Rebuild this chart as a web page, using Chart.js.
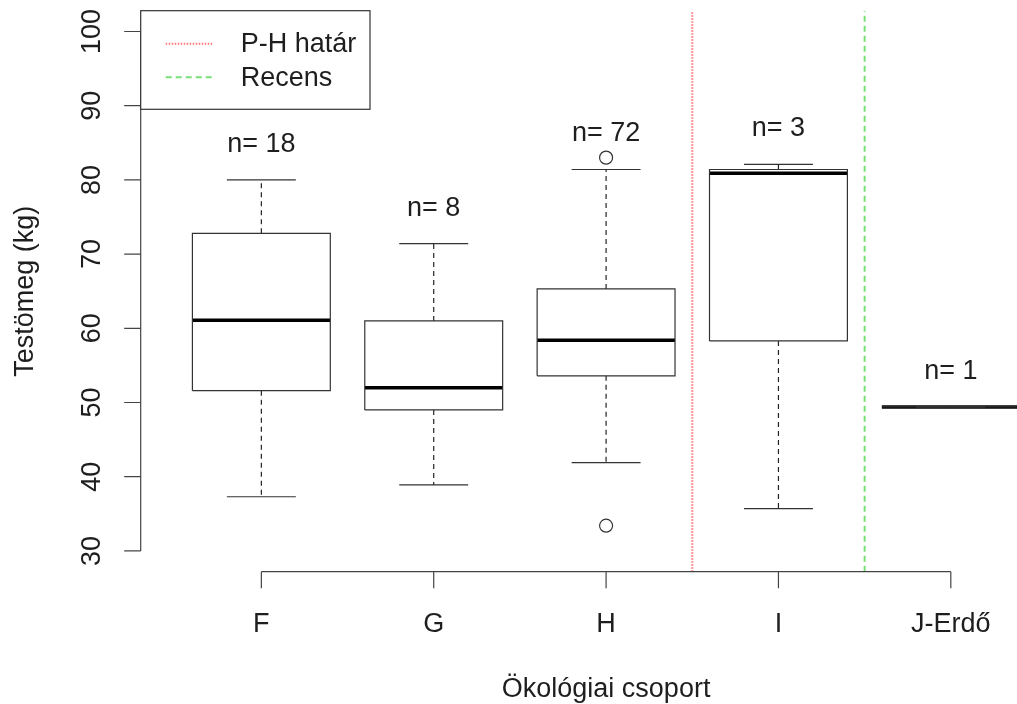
<!DOCTYPE html>
<html>
<head>
<meta charset="utf-8">
<script src="https://cdn.jsdelivr.net/npm/chart.js@4.4.1/dist/chart.umd.min.js"></script>
<style>
  html, body { margin: 0; padding: 0; background: #fff; overflow: hidden; }
  canvas { display: block; }
</style>
</head>
<body>
<canvas id="myChart" width="1017" height="704"></canvas>
<script>
// Adatok (leolvasva az ábráról)
const groups = ['F', 'G', 'H', 'I', 'J-Erdő'];
const counts = [18, 8, 72, 3, 1];
const whiskerLow = [37.3, 38.9, 41.9, 35.7, 49.4];
const quart1 = [51.6, 49.0, 53.6, 58.3, 49.4];
const medians = [61.1, 52.0, 58.4, 80.9, 49.4];
const quart3 = [72.8, 61.0, 65.3, 81.4, 49.4];
const whiskerHigh = [80.0, 71.4, 81.4, 82.1, 49.4];
const outlierGroup = [3, 3];
const outlierValues = [83.0, 33.4];
const yTicks = [30, 40, 50, 60, 70, 80, 90, 100];
const dividerPos = [3.5, 4.5];
const dividerLabels = ['P-H határ', 'Recens'];

const FONT = '27px "Liberation Sans", Arial, sans-serif';
const INK = '#1e1e1e';
const Y_MIN = 27.2, Y_MAX = 102.8;

const halfBox = 0.4, halfCap = 0.2;
const datasets = [];

// dobozok, whiskerek, mediánok
groups.forEach(function (g, i) {
    const x = i + 1;
    datasets.push({
        data: [
            {x: x - halfBox, y: quart1[i]}, {x: x + halfBox, y: quart1[i]},
            {x: x + halfBox, y: quart3[i]}, {x: x - halfBox, y: quart3[i]},
            {x: x - halfBox, y: quart1[i]}
        ],
        borderColor: '#333', borderWidth: 1.2
    });
    datasets.push({
        data: [{x: x, y: quart3[i]}, {x: x, y: whiskerHigh[i]}],
        borderColor: '#222', borderWidth: 1.2, borderDash: [5, 4]
    });
    datasets.push({
        data: [{x: x, y: quart1[i]}, {x: x, y: whiskerLow[i]}],
        borderColor: '#222', borderWidth: 1.2, borderDash: [5, 4]
    });
    datasets.push({
        data: [{x: x - halfCap, y: whiskerHigh[i]}, {x: x + halfCap, y: whiskerHigh[i]}],
        borderColor: '#333', borderWidth: 1.2
    });
    datasets.push({
        data: [{x: x - halfCap, y: whiskerLow[i]}, {x: x + halfCap, y: whiskerLow[i]}],
        borderColor: '#333', borderWidth: 1.2
    });
    datasets.push({
        data: [{x: x - halfBox, y: medians[i]}, {x: x + halfBox, y: medians[i]}],
        borderColor: '#000', borderWidth: 3.5
    });
});

datasets.forEach(function (d) {
    d.showLine = true;
    d.pointRadius = 0;
    d.fill = false;
    d.tension = 0;
});

// kiugró értékek
datasets.push({
    data: outlierValues.map(function (v, k) { return {x: outlierGroup[k], y: v}; }),
    showLine: false,
    pointStyle: 'circle',
    pointRadius: 6.5,
    pointBorderWidth: 1.2,
    pointBorderColor: '#333',
    pointBackgroundColor: 'rgba(0,0,0,0)'
});

// határvonalak
const dividerStyle = [
    {color: 'rgba(255,70,70,0.75)', dash: [1.5, 1.5]},
    {color: '#78e078', dash: [6, 4]}
];
dividerPos.forEach(function (p, k) {
    datasets.push({
        data: [{x: p, y: Y_MIN}, {x: p, y: Y_MAX}],
        showLine: true, pointRadius: 0, fill: false,
        borderColor: dividerStyle[k].color, borderWidth: 2,
        borderDash: dividerStyle[k].dash
    });
});

// tengelyek, feliratok, jelmagyarázat
const rPlot = {
    id: 'rPlot',
    afterDraw: function (chart) {
        const c = chart.ctx;
        const xs = chart.scales.x, ys = chart.scales.y;
        const area = chart.chartArea;
        c.save();
        c.strokeStyle = '#444';
        c.lineWidth = 1.2;
        c.fillStyle = INK;
        c.font = FONT;

        // y tengely
        const yTop = ys.getPixelForValue(yTicks[yTicks.length - 1]);
        const yBot = ys.getPixelForValue(yTicks[0]);
        c.beginPath();
        c.moveTo(area.left, yTop); c.lineTo(area.left, yBot);
        yTicks.forEach(function (t) {
            const py = ys.getPixelForValue(t);
            c.moveTo(area.left, py); c.lineTo(area.left - 16.5, py);
        });
        c.stroke();
        c.textAlign = 'center';
        c.textBaseline = 'alphabetic';
        yTicks.forEach(function (t) {
            c.save();
            c.translate(100, ys.getPixelForValue(t));
            c.rotate(-Math.PI / 2);
            c.fillText(String(t), 0, 0);
            c.restore();
        });

        // x tengely
        const xl = xs.getPixelForValue(1), xr = xs.getPixelForValue(groups.length);
        c.beginPath();
        c.moveTo(xl, area.bottom); c.lineTo(xr, area.bottom);
        groups.forEach(function (g, i) {
            const px = xs.getPixelForValue(i + 1);
            c.moveTo(px, area.bottom); c.lineTo(px, area.bottom + 16.5);
        });
        c.stroke();
        groups.forEach(function (g, i) {
            c.fillText(g, xs.getPixelForValue(i + 1), 632);
        });

        // tengelycímek
        const plotMidX = (area.left + xs.getPixelForValue(5.7)) / 2;
        c.fillText('Ökológiai csoport', plotMidX, 697);
        c.save();
        c.translate(33, (area.top + area.bottom) / 2);
        c.rotate(-Math.PI / 2);
        c.fillText('Testömeg (kg)', 0, 0);
        c.restore();

        // n= feliratok
        c.textBaseline = 'middle';
        groups.forEach(function (g, i) {
            const py = ys.getPixelForValue(whiskerHigh[i]) - 35.5;
            c.fillText('n= ' + counts[i], xs.getPixelForValue(i + 1), py);
        });

        // jelmagyarázat
        c.fillStyle = '#fff';
        c.fillRect(area.left, area.top, 229.3, 98.6);
        c.strokeStyle = '#333';
        c.lineWidth = 1.2;
        c.strokeRect(area.left, area.top, 229.3, 98.6);
        const rowY = [43.8, 77.3];
        dividerLabels.forEach(function (lbl, k) {
            c.beginPath();
            c.strokeStyle = dividerStyle[k].color;
            c.lineWidth = 2;
            c.setLineDash(dividerStyle[k].dash);
            c.moveTo(area.left + 25, rowY[k]);
            c.lineTo(area.left + 73, rowY[k]);
            c.stroke();
            c.setLineDash([]);
            c.fillStyle = INK;
            c.textAlign = 'left';
            c.fillText(lbl, area.left + 100, rowY[k] + 1);
        });
        c.restore();
    }
};

const ctx = document.getElementById('myChart').getContext('2d');
new Chart(ctx, {
    type: 'scatter',
    data: { datasets: datasets },
    options: {
        responsive: false,
        animation: false,
        events: [],
        layout: { autoPadding: false, padding: { left: 140.7, top: 10.7, right: 0, bottom: 132.3 } },
        plugins: { legend: { display: false }, tooltip: { enabled: false } },
        scales: {
            x: { type: 'linear', min: 0.3, max: 5.384, display: false },
            y: { type: 'linear', min: Y_MIN, max: Y_MAX, display: false }
        }
    },
    plugins: [rPlot]
});
</script>
</body>
</html>
